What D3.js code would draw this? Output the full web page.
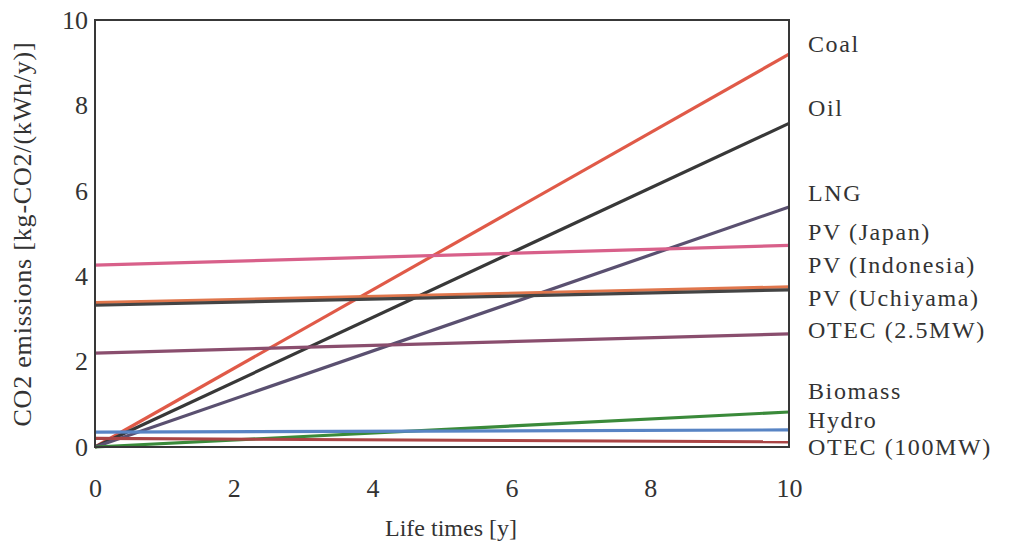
<!DOCTYPE html>
<html>
<head>
<meta charset="utf-8">
<script src="https://cdn.jsdelivr.net/npm/d3@7"></script>
<style>
  body { margin: 0; background: #fff; }
  text { font-family: "Liberation Serif", "Times New Roman", serif; fill: #333; }
</style>
</head>
<body>
<div id="vis"></div>
<script>
// Constants for the chart
const FRAME_WIDTH = 1022;
const FRAME_HEIGHT = 550;
const MARGINS = {left: 95, right: 233, top: 20, bottom: 103};
const VIS_WIDTH = FRAME_WIDTH - MARGINS.left - MARGINS.right;
const VIS_HEIGHT = FRAME_HEIGHT - MARGINS.top - MARGINS.bottom;

// data: value at life time 0 and 10
const names = ["Coal", "Oil", "LNG", "PV (Japan)", "PV (Indonesia)", "PV (Uchiyama)",
               "OTEC (2.5MW)", "Biomass", "Hydro", "OTEC (100MW)"];
const years = [0, 10];
const startValues = [0.0, 0.0, 0.0, 4.26, 3.38, 3.32, 2.2, 0.0, 0.35, 0.2];
const endValues = [9.2, 7.58, 5.62, 4.72, 3.75, 3.68, 2.65, 0.82, 0.4, 0.12];
const colors = ["#e05a48", "#383838", "#5a5070", "#d8608a", "#e0764c", "#444444",
                "#8a4e6e", "#3a8a3a", "#5884c4", "#aa4444"];
// label positions (value units) on the right side
const labelValues = [9.45, 7.95, 5.95, 5.05, 4.27, 3.5, 2.74, 1.31, 0.65, 0.0];
const xTicks = [0, 2, 4, 6, 8, 10];
const yTicks = [0, 2, 4, 6, 8, 10];

const svg = d3.select("#vis")
  .append("svg")
  .attr("width", FRAME_WIDTH)
  .attr("height", FRAME_HEIGHT);

const X_SCALE = d3.scaleLinear().domain([0, 10]).range([0, VIS_WIDTH]);
const Y_SCALE = d3.scaleLinear().domain([0, 10]).range([VIS_HEIGHT, 0]);

const g = svg.append("g")
  .attr("transform", "translate(" + MARGINS.left + "," + MARGINS.top + ")");

// lines
const line = d3.line()
  .x(d => X_SCALE(d[0]))
  .y(d => Y_SCALE(d[1]));

names.forEach((n, i) => {
  g.append("path")
    .attr("d", line([[years[0], startValues[i]], [years[1], endValues[i]]]))
    .attr("fill", "none")
    .attr("stroke", colors[i])
    .attr("stroke-width", 3.2);
});

// frame
g.append("rect")
  .attr("x", 0).attr("y", 0)
  .attr("width", VIS_WIDTH).attr("height", VIS_HEIGHT)
  .attr("fill", "none")
  .attr("stroke", "#383838")
  .attr("stroke-width", 2);

// x axis
const xAxis = g.append("g")
  .attr("transform", "translate(0," + VIS_HEIGHT + ")")
  .call(d3.axisBottom(X_SCALE).tickValues(xTicks).tickSize(0).tickPadding(32));
xAxis.select(".domain").remove();
xAxis.selectAll("text")
  .attr("font-size", "26px")
  .attr("font-family", "Liberation Serif, serif")
  .attr("fill", "#333");

// y axis
const yAxis = g.append("g")
  .call(d3.axisLeft(Y_SCALE).tickValues(yTicks).tickSize(0).tickPadding(7));
yAxis.select(".domain").remove();
yAxis.selectAll("text")
  .attr("font-size", "26px")
  .attr("font-family", "Liberation Serif, serif")
  .attr("fill", "#333");

// series labels
g.selectAll(".lbl")
  .data(names)
  .enter()
  .append("text")
  .attr("class", "lbl")
  .attr("x", VIS_WIDTH + 19)
  .attr("y", (d, i) => Y_SCALE(labelValues[i]))
  .attr("dy", "0.35em")
  .attr("font-size", "24px")
  .attr("letter-spacing", "1.6px")
  .text(d => d);

// axis titles
svg.append("text")
  .attr("text-anchor", "middle")
  .attr("x", 451)
  .attr("y", 536)
  .attr("font-size", "24px")
  .text("Life times [y]");

svg.append("text")
  .attr("text-anchor", "middle")
  .attr("transform", "translate(31," + 234 + ") rotate(-90)")
  .attr("font-size", "26px")
  .attr("letter-spacing", "0.8px")
  .text("CO2 emissions [kg-CO2/(kWh/y)]");
</script>
</body>
</html>
